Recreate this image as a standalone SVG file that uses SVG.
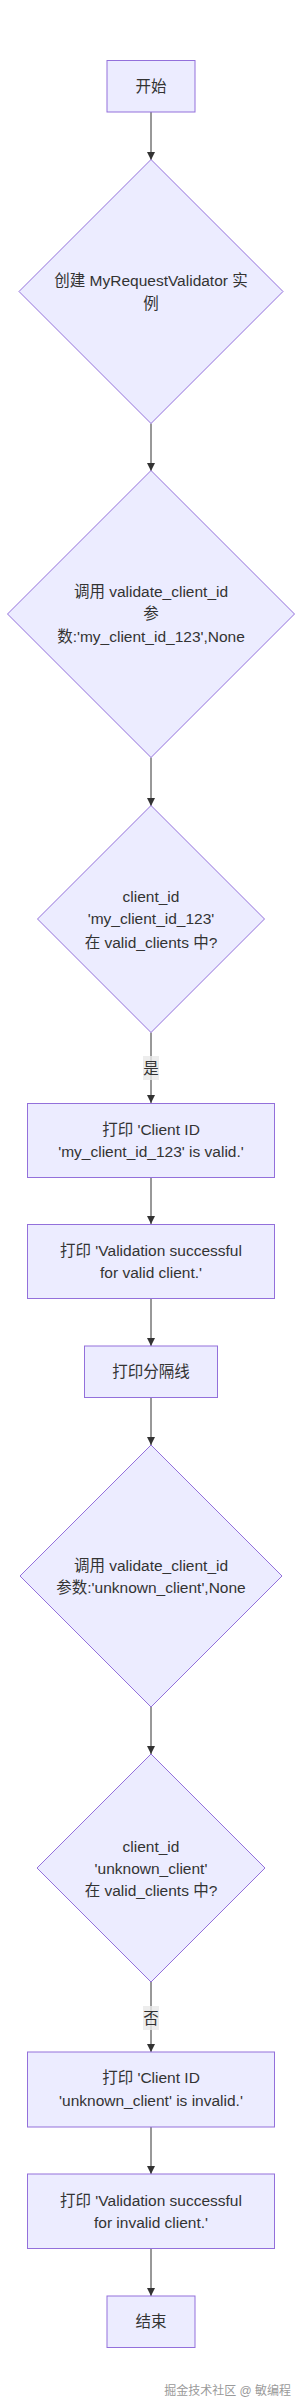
<svg xmlns="http://www.w3.org/2000/svg" width="302" height="2408" viewBox="0 0 302 2408">
<style>
.node rect, .node polygon { fill: #ECECFF; stroke: #9370DB; stroke-width: 1; }
text { font-family: "Liberation Sans", "Noto Sans CJK SC", sans-serif; font-size: 15.5px; fill: #333333; text-anchor: middle; dominant-baseline: central; }
.edge { stroke: #333333; stroke-width: 1; fill: none; marker-end: url(#arrow); }
.lblbg { fill: #e8e8e8; opacity: 0.8; }
.wm { font-size: 12px; fill: #9a9a9a; text-anchor: end; }
</style>
<defs>
<marker id="arrow" markerUnits="userSpaceOnUse" markerWidth="8" markerHeight="8" viewBox="0 0 8 8" refX="8" refY="4" orient="auto">
<path d="M0,0 L8,4 L0,8 z" fill="#333333"/>
</marker>
</defs>
<rect x="0" y="0" width="302" height="2408" fill="#ffffff"/>
<g id="connectors">
<line class="edge" x1="151" y1="112" x2="151" y2="160"/>
<line class="edge" x1="151" y1="423.5" x2="151" y2="471"/>
<line class="edge" x1="151" y1="757.5" x2="151" y2="806"/>
<line class="edge" x1="151" y1="1032.5" x2="151" y2="1103"/>
<line class="edge" x1="151" y1="1177.5" x2="151" y2="1224"/>
<line class="edge" x1="151" y1="1298.5" x2="151" y2="1346"/>
<line class="edge" x1="151" y1="1397.5" x2="151" y2="1445"/>
<line class="edge" x1="151" y1="1707" x2="151" y2="1754"/>
<line class="edge" x1="151" y1="1982" x2="151" y2="2052"/>
<line class="edge" x1="151" y1="2127" x2="151" y2="2174"/>
<line class="edge" x1="151" y1="2248.5" x2="151" y2="2296"/>
<g id="label-yes"><rect class="lblbg" x="143" y="1056" width="16" height="24"/><text x="151" y="1068">是</text></g>
<g id="label-no"><rect class="lblbg" x="143" y="2006" width="16" height="24"/><text x="151" y="2018">否</text></g>
</g>
<g id="start" class="node"><rect x="107" y="60.5" width="88" height="51.5"/><text x="151" y="86">开始</text></g>
<g id="create" class="node"><polygon points="151,159.5 283,291.5 151,423.5 19,291.5"/><text x="151" y="280">创建 MyRequestValidator 实</text><text x="151" y="303">例</text></g>
<g id="call1" class="node"><polygon points="151,470.5 294.5,614 151,757.5 7.5,614"/><text x="151" y="591">调用 validate_client_id</text><text x="151" y="613.5">参</text><text x="151" y="636.5">数:'my_client_id_123',None</text></g>
<g id="check1" class="node"><polygon points="151,805.5 264.5,919 151,1032.5 37.5,919"/><text x="151" y="896">client_id</text><text x="151" y="918.5">'my_client_id_123'</text><text x="151" y="942">在 valid_clients 中?</text></g>
<g id="print-valid" class="node"><rect x="27.5" y="1103.5" width="247" height="74"/><text x="151" y="1129">打印 'Client ID</text><text x="151" y="1151">'my_client_id_123' is valid.'</text></g>
<g id="print-success1" class="node"><rect x="27.5" y="1224.5" width="247" height="74"/><text x="151" y="1250">打印 'Validation successful</text><text x="151" y="1272.5">for valid client.'</text></g>
<g id="separator" class="node"><rect x="84.5" y="1346" width="133" height="51.5"/><text x="151" y="1371.5">打印分隔线</text></g>
<g id="call2" class="node"><polygon points="151,1445 282,1576 151,1707 20,1576"/><text x="151" y="1565">调用 validate_client_id</text><text x="151" y="1587">参数:'unknown_client',None</text></g>
<g id="check2" class="node"><polygon points="151,1754 265,1868 151,1982 37,1868"/><text x="151" y="1846">client_id</text><text x="151" y="1868">'unknown_client'</text><text x="151" y="1890">在 valid_clients 中?</text></g>
<g id="print-invalid" class="node"><rect x="27.5" y="2052" width="247" height="75"/><text x="151" y="2077.5">打印 'Client ID</text><text x="151" y="2100">'unknown_client' is invalid.'</text></g>
<g id="print-success2" class="node"><rect x="27.5" y="2174" width="247" height="74.5"/><text x="151" y="2200">打印 'Validation successful</text><text x="151" y="2222.5">for invalid client.'</text></g>
<g id="end" class="node"><rect x="107" y="2296" width="88" height="51.5"/><text x="151" y="2321">结束</text></g>
<text class="wm" x="291" y="2391">掘金技术社区 @ 敏编程</text>
</svg>
